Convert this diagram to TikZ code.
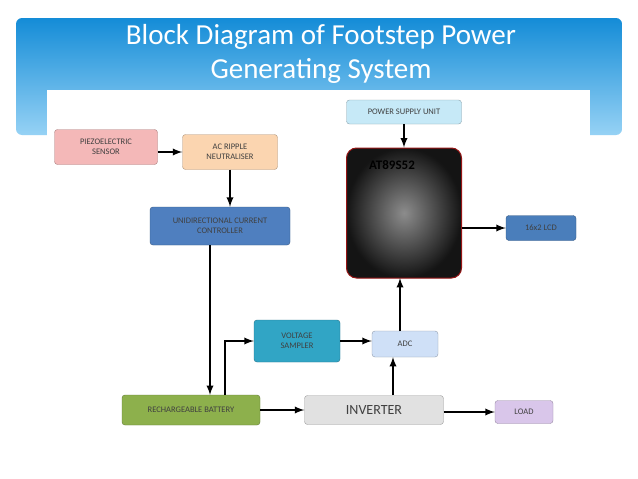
\documentclass[tikz,border=0pt]{standalone}
\usepackage{fontspec}
\setmainfont{Carlito}
\definecolor{cpz}{RGB}{244,184,184}
\definecolor{cac}{RGB}{251,213,176}
\definecolor{cud}{RGB}{79,127,191}
\definecolor{cps}{RGB}{198,233,247}
\definecolor{clcd}{RGB}{74,126,187}
\definecolor{cvs}{RGB}{49,165,197}
\definecolor{cadc}{RGB}{207,224,247}
\definecolor{cbat}{RGB}{141,176,76}
\definecolor{cinv}{RGB}{225,225,225}
\definecolor{cload}{RGB}{217,198,234}
\definecolor{htop}{RGB}{20,140,215}
\definecolor{hbot}{RGB}{150,210,245}
\definecolor{atb}{RGB}{150,20,20}
\begin{document}
\begin{tikzpicture}[x=1pt,y=-1pt,
 box/.style={draw=#1!70!black,rounded corners=3pt,fill=#1,font=\fontsize{8.5}{10.5}\selectfont,text=black!75,align=center,inner sep=0pt},
 ar/.style={-latex,line width=2.2pt}]
\useasboundingbox (0,0) rectangle (638,479);
\fill[white] (0,0) rectangle (638,479);
\shade[top color=htop,bottom color=hbot,rounded corners=6pt] (16,18) rectangle (622,135);
\fill[white] (47,90) rectangle (590,470);
\node[text=white,font=\fontsize{29}{34}\selectfont,align=center] (title) at (321,54) {Block Diagram of Footstep Power\\Generating System};
\node[box=cpz,minimum width=103,minimum height=35] (pz) at (106,147) {PIEZOELECTRIC\\SENSOR};
\node[box=cac,minimum width=95,minimum height=35] (ac) at (230,152) {AC RIPPLE\\NEUTRALISER};
\node[box=cud,minimum width=140,minimum height=38] (ud) at (220,226) {UNIDIRECTIONAL CURRENT\\CONTROLLER};
\node[box=cps,minimum width=115,minimum height=24] (ps) at (404,112) {POWER SUPPLY UNIT};
\node[draw=atb,line width=1pt,rounded corners=10pt,inner color=black!45,outer color=black!92,minimum width=115,minimum height=130] (at) at (404,213) {};
\node[font=\bfseries\fontsize{13}{15}\selectfont,text=black] (atl) at (392,165) {AT89S52};
\node[box=clcd,minimum width=70,minimum height=25] (lcd) at (541,228) {16x2 LCD};
\node[box=cvs,minimum width=86,minimum height=42] (vs) at (297,341) {VOLTAGE\\SAMPLER};
\node[box=cadc,minimum width=66,minimum height=26] (adc) at (405,344) {ADC};
\node[box=cbat,minimum width=138,minimum height=30] (bat) at (191,410) {RECHARGEABLE BATTERY};
\node[box=cinv,minimum width=139,minimum height=29,font=\fontsize{14}{16}\selectfont] (inv) at (374,410) {INVERTER};
\node[box=cload,minimum width=58,minimum height=23] (load) at (524,412) {LOAD};
\draw[ar] (pz.east|-ac) -- (ac.west);
\draw[ar] (ac.south) -- (ac.south|-ud.north);
\draw[ar] (210,245) -- (210,395);
\draw[ar] (225,395) -- (225,341) -- (vs.west);
\draw[ar] (vs.east) -- (vs.east-|adc.west);
\draw[ar] (393,395) -- (393,357);
\draw[ar] (400,331) -- (400,278);
\draw[ar] (ps.south) -- (at.north);
\draw[ar] (at.east|-lcd) -- (lcd.west);
\draw[ar] (bat.east) -- (inv.west);
\draw[ar] (inv.east|-load) -- (load.west);
\end{tikzpicture}
\end{document}
